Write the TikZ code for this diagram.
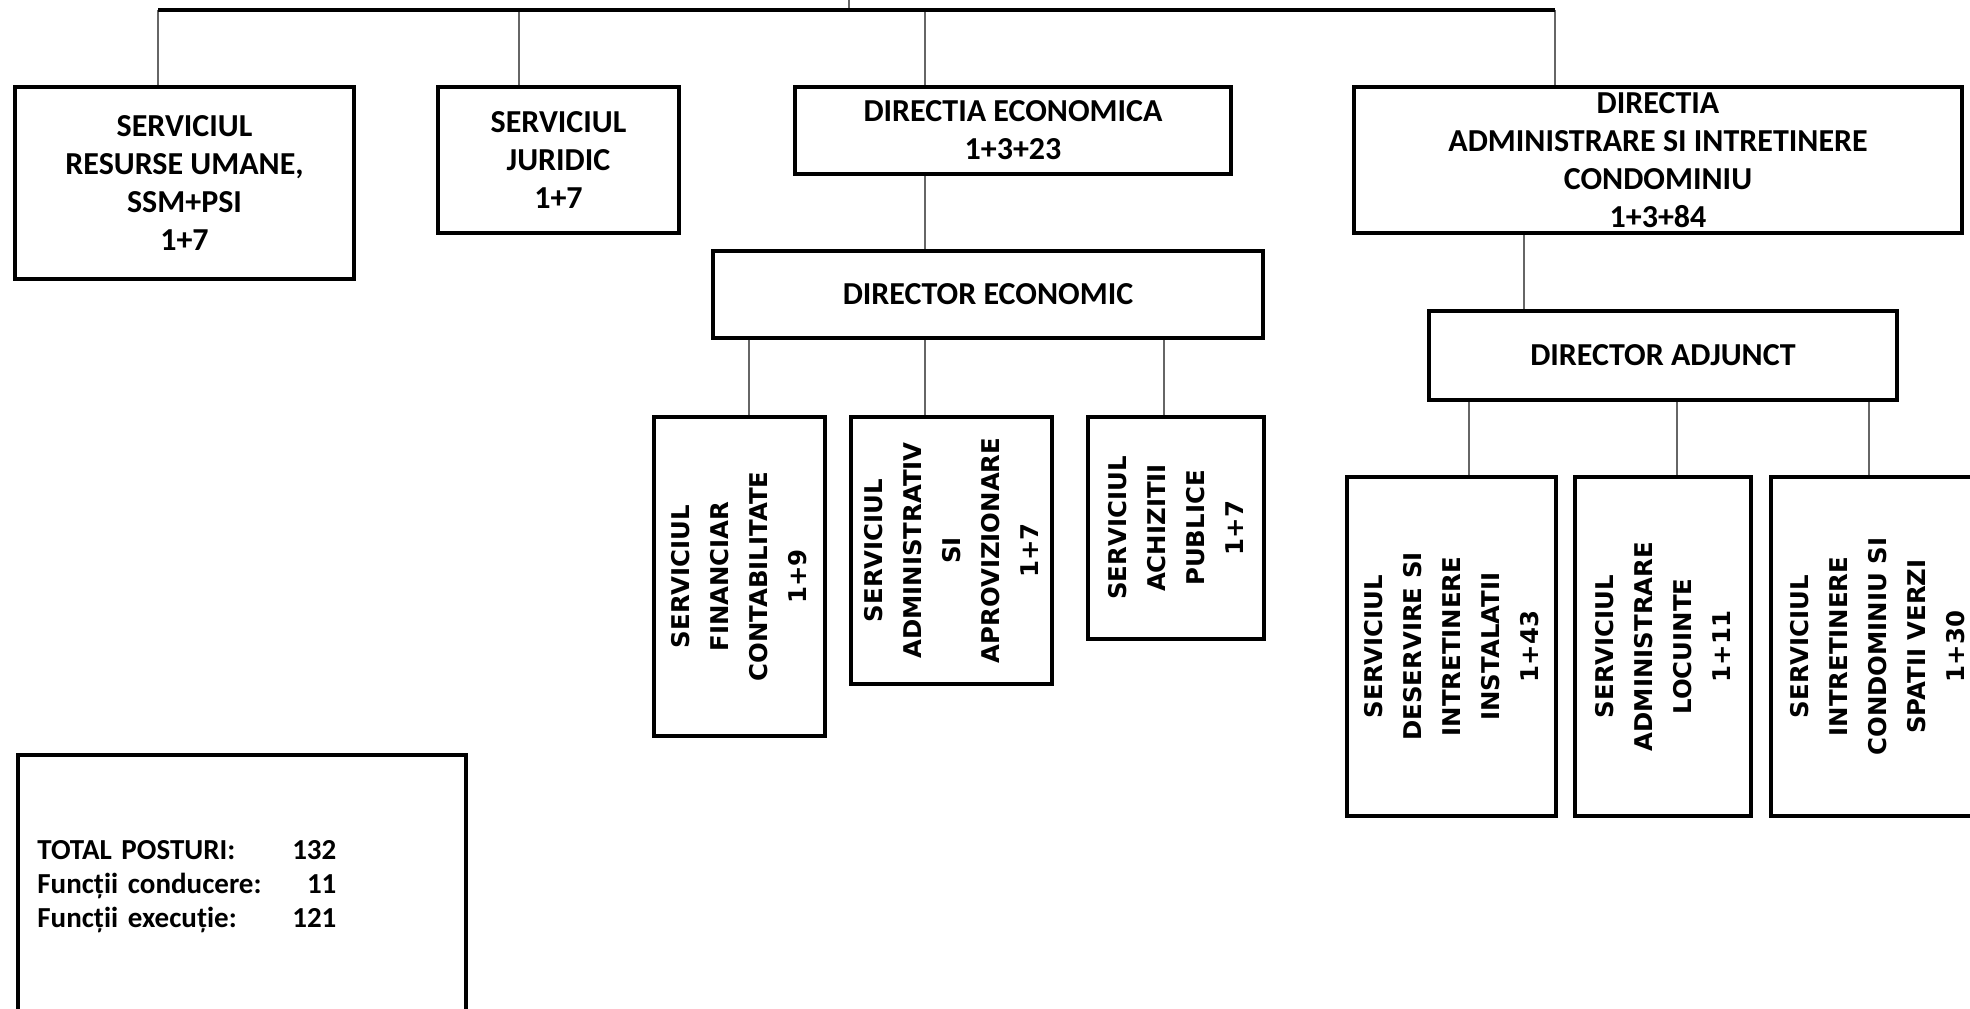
\documentclass[tikz,border=0pt]{standalone}
\usepackage{fontspec}
\setmainfont{Carlito}
\newfontfamily\vertfont{DejaVu Sans}
\begin{document}
\begin{tikzpicture}
[x=0.5pt,y=-0.5pt,
 unitbox/.style={draw,line width=2.2pt,align=center,inner sep=0pt,
   font=\fontsize{16pt}{19pt}\selectfont\bfseries},
 vertbox/.style={draw,line width=2.2pt,align=center,inner sep=0pt,rotate=90,
   font=\vertfont\fontsize{12.2pt}{19.5pt}\selectfont\bfseries},
 link/.style={line width=0.6pt,black!60},
 busline/.style={line width=1.6pt}]
\useasboundingbox (0,0) rectangle (1970,1008);
%% first level
\node[unitbox,minimum width=169.5pt,minimum height=96pt] (resurse) at (184.5,183)
  {SERVICIUL\\RESURSE UMANE,\\SSM+PSI\\1+7};
\node[unitbox,minimum width=120.5pt,minimum height=73pt] (juridic) at (558.5,160)
  {SERVICIUL\\JURIDIC\\1+7};
\node[unitbox,minimum width=218pt,minimum height=43.5pt] (direco) at (1013,130.5)
  {DIRECTIA ECONOMICA\\1+3+23};
\node[unitbox,minimum width=304pt,minimum height=73pt] (diradm) at (1658,160)
  {DIRECTIA\\ADMINISTRARE SI INTRETINERE\\CONDOMINIU\\1+3+84};
%% directors
\node[unitbox,minimum width=275pt,minimum height=43.5pt] (direcon) at (988,294.5)
  {DIRECTOR ECONOMIC};
\node[unitbox,minimum width=234pt,minimum height=44.5pt] (diradj) at (1663,355.5)
  {DIRECTOR ADJUNCT};
%% services, written upwards
\node[vertbox,minimum width=159.5pt,minimum height=85.5pt] (financiar) at (739.5,576.5)
  {SERVICIUL\\FINANCIAR\\CONTABILITATE\\1+9};
\node[vertbox,minimum width=133.5pt,minimum height=100.5pt] (administrativ) at (951.5,550.5)
  {SERVICIUL\\ADMINISTRATIV\\SI\\APROVIZIONARE\\1+7};
\node[vertbox,minimum width=111pt,minimum height=88pt] (achizitii) at (1176,528)
  {SERVICIUL\\ACHIZITII\\PUBLICE\\1+7};
\node[vertbox,minimum width=169.5pt,minimum height=104.5pt] (deservire) at (1451.5,646.5)
  {SERVICIUL\\DESERVIRE SI\\INTRETINERE\\INSTALATII\\1+43};
\node[vertbox,minimum width=169.5pt,minimum height=88pt] (locuinte) at (1663,646.5)
  {SERVICIUL\\ADMINISTRARE\\LOCUINTE\\1+11};
\node[vertbox,minimum width=169.5pt,minimum height=107pt] (intretinere) at (1878,646.5)
  {SERVICIUL\\INTRETINERE\\CONDOMINIU SI\\SPATII VERZI\\1+30};
%% totals
\node[draw,line width=2.2pt,minimum width=224pt,minimum height=136.5pt] (total) at (242,891.5) {};
\node[anchor=west,align=left,inner sep=0pt,text width=149.5pt,
  font=\fontsize{14.5pt}{17pt}\selectfont\bfseries] (totals) at (37,887)
  {TOTAL POSTURI:\hfill 132\\Funcții conducere:\hfill 11\\Funcții execuție:\hfill 121};
%% connectors
\coordinate (top) at (849,0);
\coordinate (busl) at (158,10);
\coordinate (busr) at (1555,10);
\draw[link] (top) -- (top |- busl);
\foreach \x/\n in {158/resurse,519/juridic,925/direco,1555/diradm}
  \draw[link] (\x,10) -- (\n.north -| \x,10);
\draw[busline] (busl) -- (busr);
\draw[link] (direco.south -| 925,0) -- (direcon.north -| 925,0);
\foreach \x/\n in {749/financiar,925/administrativ,1164/achizitii}
  \draw[link] (direcon.south -| \x,0) -- (\n.east -| \x,0);
\draw[link] (diradm.south -| 1524,0) -- (diradj.north -| 1524,0);
\foreach \x/\n in {1469/deservire,1677/locuinte,1869/intretinere}
  \draw[link] (diradj.south -| \x,0) -- (\n.east -| \x,0);
\end{tikzpicture}
\end{document}
